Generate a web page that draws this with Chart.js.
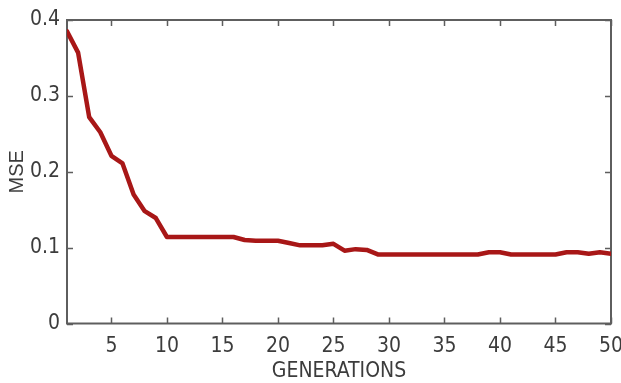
<!DOCTYPE html>
<html>
<head>
<meta charset="utf-8">
<script src="https://cdn.jsdelivr.net/npm/chart.js@4"></script>
<style>
  html, body { margin: 0; padding: 0; background: #ffffff; }
  #wrap { width: 621px; height: 383px; position: relative; }
</style>
</head>
<body>
<div id="wrap"><canvas id="c" width="621" height="383"></canvas></div>
<script>
// ---- data ----
const generations = [1,2,3,4,5,6,7,8,9,10,11,12,13,14,15,16,17,18,19,20,21,22,23,24,25,26,27,28,29,30,31,32,33,34,35,36,37,38,39,40,41,42,43,44,45,46,47,48,49,50];
const mse = [0.385,0.357,0.272,0.252,0.221,0.211,0.170,0.148,0.139,0.114,
             0.114,0.114,0.114,0.114,0.114,0.114,0.110,0.109,0.109,0.109,
             0.106,0.103,0.103,0.103,0.105,0.096,0.098,0.097,0.091,0.091,
             0.091,0.091,0.091,0.091,0.091,0.091,0.091,0.091,0.094,0.094,
             0.091,0.091,0.091,0.091,0.091,0.094,0.094,0.092,0.094,0.092];
const xTicks = [5,10,15,20,25,30,35,40,45,50];
const yTicks = [0,0.1,0.2,0.3,0.4];
const xTitle = 'GENERATIONS';
const yTitle = 'MSE';

const FONT = "'Liberation Sans Narrow', 'DejaVu Sans Condensed', 'Liberation Sans', sans-serif";
const TEXT = '#3c3c3c';
const AXIS = '#5e5e5e';

const boxPlugin = {
  id: 'box',
  beforeDatasetsDraw(chart) {
    const {ctx, chartArea: a, scales: {x, y}} = chart;
    ctx.save();
    ctx.strokeStyle = AXIS;
    ctx.lineWidth = 2;
    ctx.strokeRect(a.left, a.top, a.right - a.left, a.bottom - a.top);
    ctx.lineWidth = 1.5;
    const L = 6;
    ctx.beginPath();
    xTicks.forEach(v => {
      const px = Math.round(x.getPixelForValue(v)) + 0.5;
      ctx.moveTo(px, a.bottom); ctx.lineTo(px, a.bottom - L);
      ctx.moveTo(px, a.top); ctx.lineTo(px, a.top + L);
    });
    yTicks.forEach(v => {
      const py = Math.round(y.getPixelForValue(v)) + 0.5;
      ctx.moveTo(a.left, py); ctx.lineTo(a.left + L, py);
      ctx.moveTo(a.right, py); ctx.lineTo(a.right - L, py);
    });
    ctx.stroke();
    ctx.restore();
  }
};

new Chart(document.getElementById('c'), {
  type: 'line',
  data: {
    datasets: [{
      data: generations.map((g, i) => ({x: g, y: mse[i]})),
      borderColor: '#a81717',
      borderWidth: 4.5,
      pointRadius: 0,
      tension: 0,
      borderJoinStyle: 'round',
      borderCapStyle: 'round',
      fill: false
    }]
  },
  options: {
    responsive: false,
    animation: false,
    devicePixelRatio: 1,
    layout: { padding: { left: 0, right: 10, top: 20, bottom: 0 } },
    plugins: { legend: { display: false }, tooltip: { enabled: false } },
    scales: {
      x: {
        type: 'linear',
        min: 1, max: 50,
        afterBuildTicks(s) { s.ticks = xTicks.map(v => ({value: v})); },
        afterFit(s) { s.height = 59.5; s.paddingLeft = 0; s.paddingRight = 0; },
        grid: { display: false, drawTicks: false },
        border: { display: false },
        ticks: { color: TEXT, font: { family: FONT, size: 21 }, padding: 10, maxRotation: 0,
                 callback: v => String(v) },
        title: { display: true, text: xTitle, color: TEXT, font: { family: FONT, size: 21 },
                 padding: { top: 0, bottom: -1 } }
      },
      y: {
        min: 0, max: 0.4,
        afterBuildTicks(s) { s.ticks = yTicks.map(v => ({value: v})); },
        afterFit(s) { s.width = 67; s.paddingTop = 0; s.paddingBottom = 0; },
        grid: { display: false, drawTicks: false },
        border: { display: false },
        ticks: { color: TEXT, font: { family: FONT, size: 21 }, padding: 7,
                 callback: v => String(v) },
        title: { display: true, text: yTitle, color: TEXT, font: { family: "'Liberation Sans', sans-serif", size: 20 },
                 padding: { top: 5, bottom: 0 } }
      }
    }
  },
  plugins: [boxPlugin]
});
</script>
</body>
</html>
